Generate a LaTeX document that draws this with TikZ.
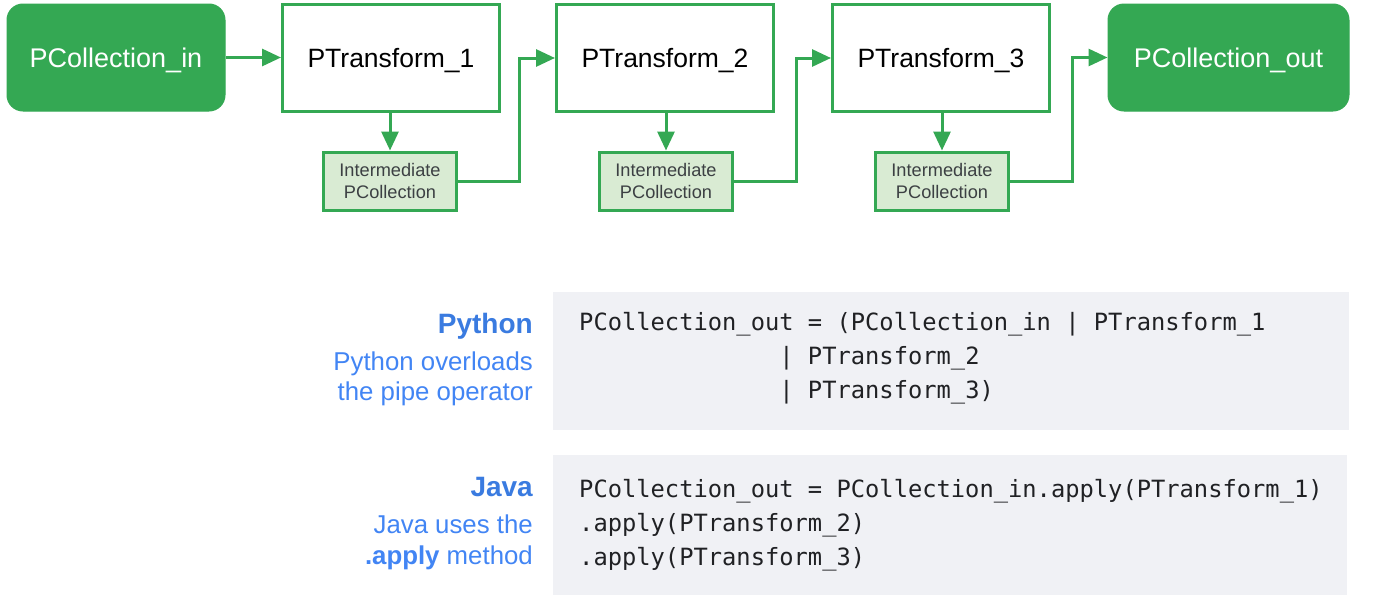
\documentclass[tikz,border=0pt]{standalone}
\usepackage{fontspec}
\setmainfont{Liberation Sans}
\newfontfamily\codefont{DejaVu Sans Mono}
\usetikzlibrary{arrows.meta,positioning,calc}
\definecolor{gg}{HTML}{34A853}
\definecolor{lg}{HTML}{D9EBD3}
\definecolor{codebg}{HTML}{F0F1F5}
\definecolor{codetx}{HTML}{202124}
\definecolor{bluetx}{HTML}{4285F4}
\definecolor{bluetitle}{HTML}{3A7BE0}
\definecolor{midtx}{HTML}{3C4043}
\tikzset{
  pcoll/.style={draw=gg, fill=gg, line width=1pt, rounded corners=16pt, minimum width=218pt, minimum height=107pt, inner sep=0pt, text height=19.5pt, text depth=0pt, text=white, font=\fontsize{27}{32}\selectfont},
  ptrans/.style={draw=gg, fill=white, line width=3pt, minimum width=217pt, minimum height=107pt, inner sep=0pt, text height=19pt, text depth=0pt, text=black, font=\fontsize{26.5}{32}\selectfont},
  inter/.style={draw=gg, fill=lg, line width=3pt, minimum width=133pt, minimum height=58pt, inner sep=0pt, align=center, text=midtx, font=\fontsize{18.2}{22}\selectfont},
  arr/.style={draw=gg, line width=3pt, -{Triangle[length=19pt,width=17pt]}},
  codebox/.style={fill=codebg, draw=none, inner sep=0pt},
  codeline/.style={anchor=base west, inner sep=0pt, text=codetx, font=\codefont\fontsize{23.75}{34}\selectfont},
  ltitle/.style={anchor=base east, inner sep=0pt, text=bluetitle, font=\bfseries\fontsize{28}{32}\selectfont},
  ldesc/.style={anchor=base east, inner sep=0pt, text=bluetx, font=\fontsize{25.8}{30}\selectfont},
}
\begin{document}
\begin{tikzpicture}[x=1pt,y=-1pt]
\useasboundingbox (0,0) rectangle (1377,605);
% top row
\node[pcoll] (in) at (116,57.5) {PCollection\_in};
\node[ptrans] (t1) at (391,58) {PTransform\_1};
\node[ptrans] (t2) at (665,58) {PTransform\_2};
\node[ptrans] (t3) at (941,58) {PTransform\_3};
\node[pcoll, minimum width=241pt] (out) at (1228.5,57.5) {PCollection\_out};
% intermediate
\node[inter] (i1) at (390,181) {Intermediate\\PCollection};
\node[inter] (i2) at (666,181) {Intermediate\\PCollection};
\node[inter] (i3) at (942,181) {Intermediate\\PCollection};
% connectors
\draw[arr] (in.east) -- (in.east -| t1.west);
\draw[arr] (t1.south -| i1.north) -- (i1.north);
\draw[arr] (t2.south -| i2.north) -- (i2.north);
\draw[arr] (t3.south -| i3.north) -- (i3.north);
\draw[arr] (i1.east) -- ++(61,0) |- (t2.west);
\draw[arr] (i2.east) -- ++(62,0) |- (t3.west);
\draw[arr] (i3.east) -- ++(62,0) |- (out.west);
% code boxes
\node[codebox, minimum width=796pt, minimum height=138pt, anchor=north west] (pybox) at (553,292) {};
\node[codebox, minimum width=794pt, minimum height=140pt, anchor=north west] (jbox) at (553,455) {};
% python code
\node[codeline] (py1) at (579,330) {PCollection\_out = (PCollection\_in | PTransform\_1};
\node[codeline] (py2) at (579,364) {\phantom{PCollection\_ou}| PTransform\_2};
\node[codeline] (py3) at (579,398) {\phantom{PCollection\_ou}| PTransform\_3)};
% java code
\node[codeline] (j1) at (579,497) {PCollection\_out = PCollection\_in.apply(PTransform\_1)};
\node[codeline] (j2) at (579,531) {.apply(PTransform\_2)};
\node[codeline] (j3) at (579,565) {.apply(PTransform\_3)};
% labels
\node[ltitle] (pyt) at (533,333) {Python};
\node[ldesc] (pyd1) at (533,370) {Python overloads};
\node[ldesc] (pyd2) at (533,400) {the pipe operator};
\node[ltitle] (jt) at (533,496) {Java};
\node[ldesc] (jd1) at (533,533) {Java uses the};
\node[ldesc] (jd2) at (533,564) {\textbf{.apply} method};
\end{tikzpicture}
\end{document}
